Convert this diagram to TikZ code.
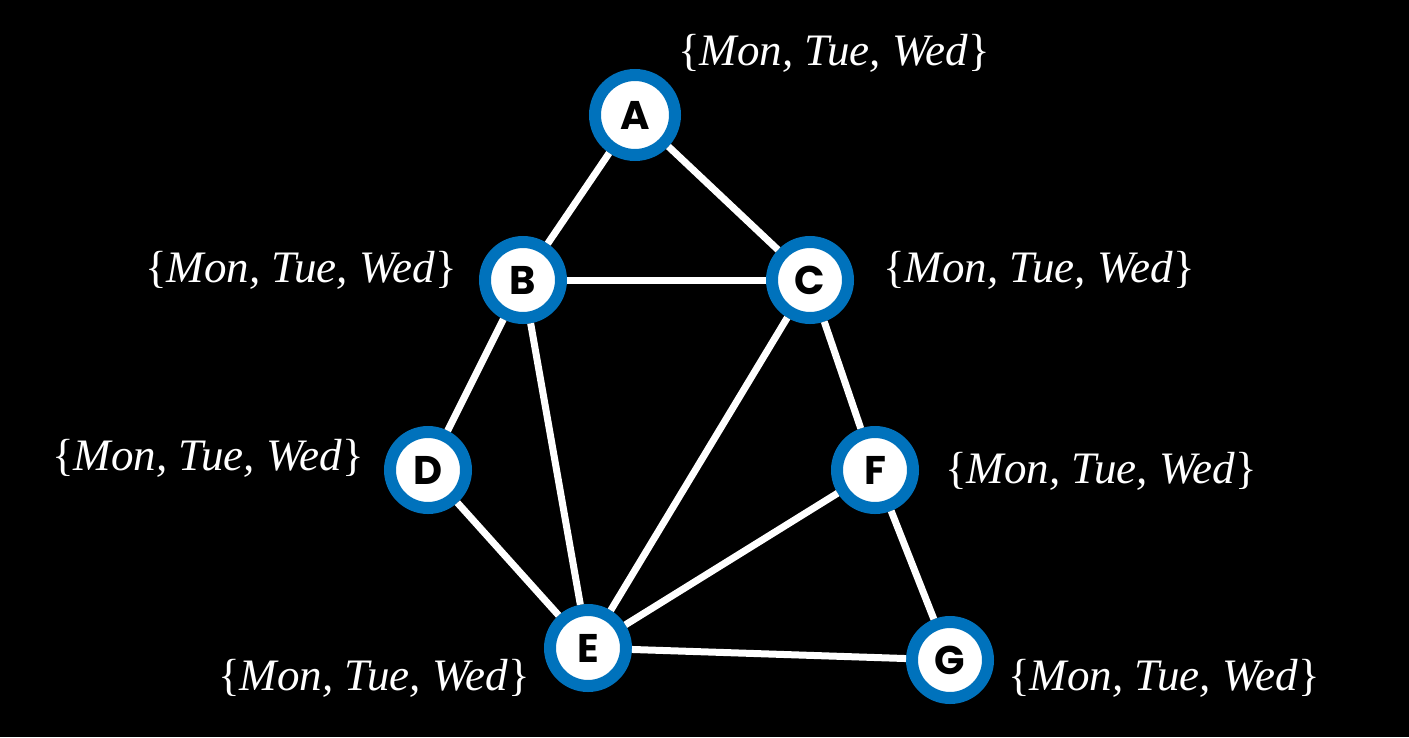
\documentclass[tikz,border=0pt]{standalone}
\usepackage{fontspec}
\setmainfont{Liberation Serif}
\newfontfamily\letterfont{Poppins}
\usepackage{tikz}
\usetikzlibrary{positioning}
\definecolor{ringc}{HTML}{0072BC}
\definecolor{bgc}{HTML}{000000}
\tikzset{
  vtx/.style={circle,draw=ringc,line width=12pt,fill=white,minimum size=76pt,inner sep=0pt,font=\letterfont\bfseries\fontsize{40}{40}\selectfont},
  edg/.style={white,line width=7pt},
  dom/.style={text=white,anchor=base west,inner sep=0pt,font=\fontsize{45}{46}\selectfont}
}
\newcommand{\days}{\{\textit{Mon, Tue, Wed}\}}

\begin{document}
\begin{tikzpicture}[x=1pt,y=-1pt]
\fill[bgc] (0,0) rectangle (1409,737);
\node[vtx,minimum size=80pt] (a) at (635,115) {A};
\node[vtx] (b) at (523,280) {B};
\node[vtx] (c) at (810,280) {C};
\node[vtx] (d) at (428,470) {D};
\node[vtx] (f) at (875,470) {F};
\node[vtx] (e) at (588,648) {E};
\node[vtx] (g) at (950,660) {G};
\draw[edg] (a)--(b); \draw[edg] (a)--(c); \draw[edg] (b)--(c);
\draw[edg] (b)--(d); \draw[edg] (b)--(e); \draw[edg] (c)--(e);
\draw[edg] (c)--(f); \draw[edg] (d)--(e); \draw[edg] (e)--(f);
\draw[edg] (e)--(g); \draw[edg] (f)--(g);
\node[dom] (la) at (678,65) {\days};
\node[dom] (lb) at (145,282) {\days};
\node[dom] (lc) at (883,282) {\days};
\node[dom] (ld) at (52,470) {\days};
\node[dom] (lf) at (945,483) {\days};
\node[dom] (le) at (218,690) {\days};
\node[dom] (lg) at (1008,690) {\days};
\end{tikzpicture}
\end{document}
